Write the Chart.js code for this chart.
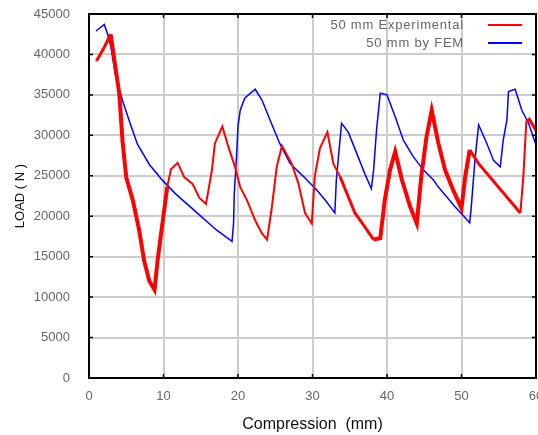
<!DOCTYPE html>
<html>
<head>
<meta charset="utf-8">
<script src="https://cdn.jsdelivr.net/npm/chart.js@4.4.1/dist/chart.umd.min.js"></script>
<style>
  html, body { margin: 0; padding: 0; background: #fff; }
  #wrap { width: 538px; height: 435px; }
</style>
</head>
<body>
<div id="wrap"><canvas id="myChart"></canvas></div>
<script>
// compression (mm) / load (N)
const expX = [1.0, 2.0, 2.9, 3.3, 4.07, 4.5, 5.0, 5.9, 6.75, 7.4, 8.1, 8.8, 9.2, 9.9, 10.5, 11.0, 11.9, 12.8, 13.9, 14.8, 15.7,
              16.5, 16.9, 17.9, 18.7, 19.6, 20.3, 21.2, 22.3, 23.2, 23.9, 24.5, 25.2, 25.9, 27.2, 28.1, 29.0, 29.9,
              30.3, 31.0, 32.0, 32.8, 33.7, 34.8, 35.7, 37.0, 38.2, 39.1, 39.7, 40.4, 41.1, 42.0, 43.1, 44.0,
              44.6, 45.3, 46.0, 46.9, 47.8, 48.9, 50.0, 50.5, 51.1, 52.3, 57.9, 58.3, 58.7, 59.1, 60.0];
const expY = [39200, 40800, 42500, 40000, 35100, 29300, 24800, 21900, 18200, 14500, 12000, 10900, 14500, 19400, 23600, 25800, 26600, 24800, 24000, 22300, 21500,
              25700, 29000, 31100, 28600, 26100, 23600, 22000, 19500, 17900, 17100, 20800, 26100, 28700, 26500, 24100, 20400, 19100,
              24900, 28400, 30400, 26500, 24900, 22400, 20400, 18700, 17100, 17300, 22000, 25700, 28000, 24500, 21200, 19100,
              24900, 29800, 33100, 29000, 25700, 23200, 21000, 24900, 28200, 26500, 20400, 24900, 31700, 32000, 30600];

const femX = [0.94, 2.05, 2.5, 2.95, 3.6, 4.5, 5.4, 6.5, 8.1, 9.9, 11.7, 14.4, 17.1, 19.2, 19.4, 19.5, 19.8, 20.0, 20.3, 20.9,
              22.3, 23.2, 24.3, 25.6, 27.0, 28.8, 30.6, 31.7, 33.0, 33.2, 33.9, 34.8, 36.1, 37.0, 37.9, 38.2, 38.6, 39.1,
              40.0, 41.1, 42.2, 43.5, 44.9, 46.2, 46.9, 49.1, 51.1, 51.3, 51.8, 52.3, 53.4, 54.3, 55.2, 55.6, 56.1, 56.3,
              57.2, 58.1, 59.0, 60.0];
const femY = [42900, 43700, 42500, 40900, 37200, 34300, 31800, 28900, 26400, 24400, 22700, 20500, 18300, 16900, 19100, 22800, 27400, 31100, 33100, 34600,
              35700, 34400, 31900, 29000, 26500, 24900, 23200, 22000, 20400, 24500, 31500, 30400, 27400, 25300, 23400, 25700, 30700, 35200,
              35000, 32300, 29400, 27400, 25700, 24500, 23600, 21200, 19200, 21000, 26900, 31300, 29000, 26900, 26100, 29400, 31900, 35400,
              35700, 33100, 31500, 28800];

const seriesNames = ['50 mm Experimental', '50 mm by FEM'];
const xTicks = [0, 10, 20, 30, 40, 50, 60];
const yTicks = [0, 5000, 10000, 15000, 20000, 25000, 30000, 35000, 40000, 45000];

const fontFamily = '"Liberation Sans", Arial, sans-serif';

function toPoints(xs, ys) {
  return xs.map((x, i) => ({ x: x, y: ys[i] }));
}

// the experimental trace is drawn thicker in some stretches
function expWidth(ctx) {
  const x = ctx.p0.parsed.x;
  if (x < 2.9) return 3;
  if (x < 10.5) return 4;
  if (x < 33) return 2;
  if (x < 38) return 3;
  if (x < 51.1) return 4;
  if (x < 57.9) return 3;
  if (x < 58.7) return 2;
  return 3;
}

const frame = {
  id: 'frame',
  afterDatasetsDraw(chart) {
    const { ctx, chartArea: a, scales } = chart;
    ctx.save();
    ctx.strokeStyle = '#000';
    ctx.lineWidth = 2;
    ctx.strokeRect(a.left, a.top, a.right - a.left, a.bottom - a.top);
    ctx.lineWidth = 1.5;
    ctx.beginPath();
    xTicks.forEach(v => {
      const px = scales.x.getPixelForValue(v);
      ctx.moveTo(px, a.bottom); ctx.lineTo(px, a.bottom - 4);
      ctx.moveTo(px, a.top); ctx.lineTo(px, a.top + 4);
    });
    yTicks.forEach(v => {
      const py = scales.y.getPixelForValue(v);
      ctx.moveTo(a.left, py); ctx.lineTo(a.left + 4, py);
      ctx.moveTo(a.right, py); ctx.lineTo(a.right - 4, py);
    });
    ctx.stroke();

    // legend: text right aligned, sample line on the right
    ctx.font = '13px ' + fontFamily;
    ctx.letterSpacing = '0.8px';
    ctx.textAlign = 'right';
    ctx.textBaseline = 'middle';
    chart.data.datasets.forEach((ds, i) => {
      const y = a.top + 11 + i * 18;
      ctx.fillStyle = '#666';
      ctx.fillText(ds.label, 464, y);
      ctx.strokeStyle = ds.borderColor;
      ctx.lineWidth = 2;
      ctx.beginPath();
      ctx.moveTo(488, y); ctx.lineTo(522, y);
      ctx.stroke();
    });
    ctx.restore();
  }
};

const element = document.querySelector('#myChart').getContext('2d');
const chart_output = new Chart(element, {
  type: 'scatter',
  data: {
    datasets: [
      {
        label: seriesNames[0],
        data: toPoints(expX, expY),
        showLine: true,
        borderColor: '#ff0000',
        backgroundColor: '#ff0000',
        borderWidth: 2,
        pointRadius: 0,
        segment: { borderWidth: expWidth }
      },
      {
        label: seriesNames[1],
        data: toPoints(femX, femY),
        showLine: true,
        borderColor: '#0000ff',
        backgroundColor: '#0000ff',
        borderWidth: 1.5,
        pointRadius: 0
      }
    ]
  },
  options: {
    responsive: true,
    maintainAspectRatio: false,
    animation: false,
    layout: { padding: { top: 14, right: 2, left: 0, bottom: 0 } },
    plugins: { legend: { display: false }, tooltip: { enabled: false } },
    scales: {
      x: {
        type: 'linear',
        min: 0, max: 60,
        afterBuildTicks: s => { s.ticks = xTicks.map(v => ({ value: v })); },
        afterFit: s => { s.height = 57; s.paddingLeft = 0; s.paddingRight = 0; },
        grid: { color: '#cccccc', lineWidth: 2, drawTicks: false },
        border: { display: false },
        ticks: { padding: 11, color: '#666', font: { family: fontFamily, size: 13 }, callback: v => String(v) },
        title: { display: true, text: 'Compression  (mm)', color: '#111', padding: { top: 0, bottom: 1 },
                 font: { family: fontFamily, size: 16 } }
      },
      y: {
        type: 'linear',
        min: 0, max: 45000,
        afterBuildTicks: s => { s.ticks = yTicks.map(v => ({ value: v })); },
        afterFit: s => { s.width = 89; s.paddingTop = 0; s.paddingBottom = 0; },
        grid: { color: '#cccccc', lineWidth: 2, drawTicks: false },
        border: { display: false },
        ticks: { padding: 19, color: '#666', font: { family: fontFamily, size: 13 }, callback: v => String(v) },
        title: { display: true, text: 'LOAD ( N )', color: '#111', padding: { top: 13, bottom: 0 },
                 font: { family: fontFamily, size: 13 } }
      }
    }
  },
  plugins: [frame]
});
</script>
</body>
</html>
